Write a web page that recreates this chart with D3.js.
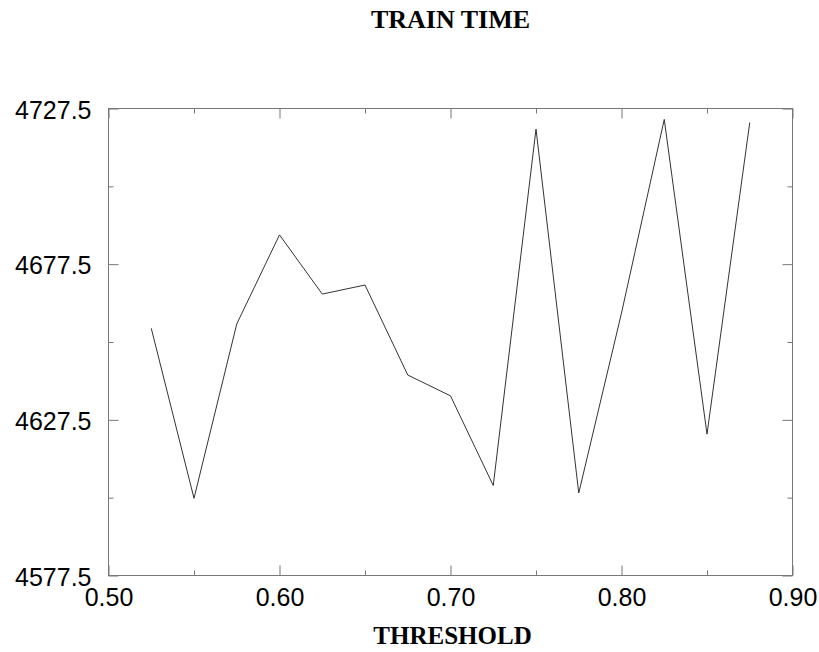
<!DOCTYPE html>
<html lang="en">

<head>
    <meta charset="UTF-8">
    <title>TRAIN TIME</title>
    <style>
        body {
            margin: 0;
            background: #fff;
        }

        svg#chart {
            display: block;
        }

        .tick line {
            stroke: #777;
        }

        .tick text {
            fill: #000;
            font-family: 'Liberation Sans', Arial, sans-serif;
        }

        .heading {
            font-family: 'Liberation Serif', 'Times New Roman', serif;
            font-weight: bold;
            fill: #000;
        }
    </style>
</head>

<body>
    <script src="https://d3js.org/d3.v7.min.js"></script>
    <script>
        const thresholds = [0.525, 0.55, 0.575, 0.6, 0.625, 0.65, 0.675, 0.7, 0.725, 0.75, 0.775, 0.8, 0.825, 0.85, 0.875]
        const trainTime = [4656.9, 4602.3, 4658.3, 4686.9, 4667.9, 4670.8, 4641.9, 4635.2, 4606.4, 4720.9, 4604.0, 4661.8, 4724.0, 4622.9, 4723.0]

        const xTicks = [0.5, 0.6, 0.7, 0.8, 0.9]
        const xMinorTicks = [0.55, 0.65, 0.75, 0.85]
        const yTicks = [4577.5, 4627.5, 4677.5, 4727.5]
        const yMinorTicks = [4602.5, 4652.5, 4702.5]

        const width = 819
        const height = 652
        const margin = { top: 108.5, left: 108.5 }
        const innerW = 684
        const innerH = 467

        const svg = d3.select('body')
            .append('svg')
            .attr('id', 'chart')
            .attr('width', width)
            .attr('height', height)

        const g = svg.append('g')
            .attr('transform', 'translate(' + margin.left + ',' + margin.top + ')')

        const x = d3.scaleLinear()
            .domain([0.5, 0.9])
            .range([0, innerW])

        const y = d3.scaleLinear()
            .domain([4577.5, 4727.5])
            .range([innerH, 0])

        // ticks point inward on all four sides
        function addAxis(axis, transform) {
            const a = g.append('g')
                .attr('transform', transform || null)
                .call(axis)
            a.select('.domain').remove()
            return a
        }

        addAxis(d3.axisBottom(x).tickValues(xTicks).tickSize(-10).tickPadding(13)
            .tickFormat(d3.format('.2f')), 'translate(0,' + innerH + ')')
            .selectAll('text').attr('font-size', 25)
        addAxis(d3.axisBottom(x).tickValues(xMinorTicks).tickSize(-5).tickFormat(''),
            'translate(0,' + innerH + ')')
        addAxis(d3.axisTop(x).tickValues(xTicks).tickSize(-10).tickFormat(''))
        addAxis(d3.axisTop(x).tickValues(xMinorTicks).tickSize(-5).tickFormat(''))

        addAxis(d3.axisLeft(y).tickValues(yTicks).tickSize(-10).tickPadding(17)
            .tickFormat(d3.format('.1f')))
            .selectAll('text').attr('font-size', 25).attr('dy', '0.38em')
        addAxis(d3.axisLeft(y).tickValues(yMinorTicks).tickSize(-5).tickFormat(''))
        addAxis(d3.axisRight(y).tickValues(yTicks).tickSize(-10).tickFormat(''),
            'translate(' + innerW + ',0)')
        addAxis(d3.axisRight(y).tickValues(yMinorTicks).tickSize(-5).tickFormat(''),
            'translate(' + innerW + ',0)')

        g.append('rect')
            .attr('width', innerW)
            .attr('height', innerH)
            .attr('fill', 'none')
            .attr('stroke', '#777')
            .attr('stroke-width', 1)

        const line = d3.line()
            .x((d, i) => x(thresholds[i]))
            .y(d => y(d))

        g.append('path')
            .datum(trainTime)
            .attr('fill', 'none')
            .attr('stroke', '#333')
            .attr('stroke-width', 1)
            .attr('stroke-linejoin', 'miter')
            .attr('d', line)

        svg.append('text')
            .attr('class', 'heading')
            .attr('x', margin.left + innerW / 2)
            .attr('y', 28)
            .attr('text-anchor', 'middle')
            .attr('font-size', 26)
            .text('TRAIN TIME')

        svg.append('text')
            .attr('class', 'heading')
            .attr('x', margin.left + innerW / 2 + 2)
            .attr('y', 644)
            .attr('text-anchor', 'middle')
            .attr('font-size', 25)
            .text('THRESHOLD')
    </script>
</body>

</html>
